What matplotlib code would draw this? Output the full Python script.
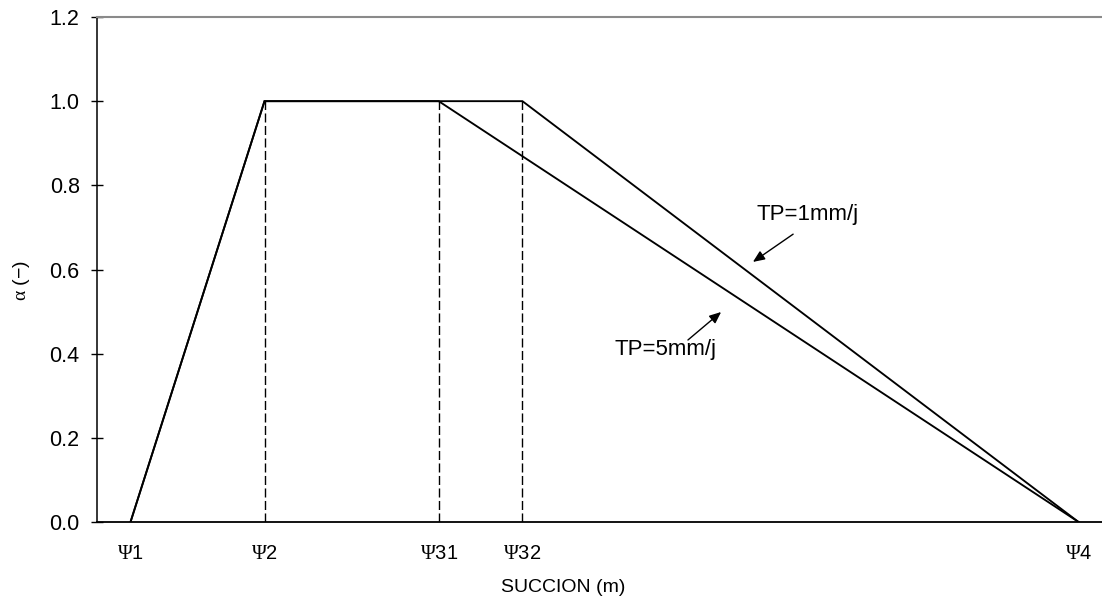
import matplotlib
matplotlib.use("Agg")
import matplotlib.pyplot as plt

plt.rcParams['font.family'] = ['Liberation Sans', 'DejaVu Sans']
plt.rcParams['mathtext.fontset'] = 'custom'
plt.rcParams['mathtext.rm'] = 'Liberation Serif'
plt.rcParams['mathtext.it'] = 'Liberation Serif'
plt.rcParams['mathtext.bf'] = 'Liberation Serif'

# Data
psi_names = [r"$\Psi$1", r"$\Psi$2", r"$\Psi$31", r"$\Psi$32", r"$\Psi$4"]
psi_values = [1.0, 5.0, 10.2, 12.7, 29.3]
x_tp1 = [1.0, 5.0, 12.7, 29.3]
y_tp1 = [0.0, 1.0, 1.0, 0.0]
x_tp5 = [1.0, 5.0, 10.2, 29.3]
y_tp5 = [0.0, 1.0, 1.0, 0.0]
dashed_x = [5.0, 10.2, 12.7]
dashed_top = [1.0, 1.0, 1.0]
y_ticks = [0.0, 0.2, 0.4, 0.6, 0.8, 1.0, 1.2]

fig = plt.figure(figsize=(11.02, 6.01), dpi=100)
ax = fig.add_axes([97/1102, 79/601, 1 - 97/1102, (522-17)/601])

ax.plot(x_tp1, y_tp1, color='black', lw=1.35, solid_joinstyle='miter')
ax.plot(x_tp5, y_tp5, color='black', lw=1.35, solid_joinstyle='miter')
ax.vlines(dashed_x, 0, dashed_top, colors='black', linestyles=(0, (6.5, 2.5)), lw=1.0)

ax.set_xlim(0, 30)
ax.set_ylim(0, 1.2)
ax.set_yticks(y_ticks)
ax.set_yticklabels([f"{v:.1f}" for v in y_ticks])
ax.set_xticks(psi_values)
ax.set_xticklabels(psi_names)
ax.tick_params(axis='y', direction='inout', length=9, width=1, labelsize=15.5, pad=8)
ax.tick_params(axis='x', length=0, labelsize=14.5, pad=16)

ax.spines['right'].set_visible(False)
ax.spines['top'].set_color('#8a8a8a')
ax.spines['top'].set_linewidth(1.5)
ax.spines['left'].set_color('black')
ax.spines['bottom'].set_color('black')
ax.spines['left'].set_linewidth(1.1)
ax.spines['bottom'].set_linewidth(1.3)

ax.set_xlabel("SUCCION (m)", fontsize=14)
ax.xaxis.set_label_coords((563 - 97) / 1005, -(587 - 522) / 505)
ax.xaxis.label.set_va('center')
ax.set_ylabel(r"$\alpha$ (−)", fontsize=14)
ax.yaxis.set_label_coords(-(97 - 21) / 1005, (522 - 281) / 505)
ax.yaxis.label.set_va('center')

arrow = dict(arrowstyle='-|>,head_length=0.7,head_width=0.3', color='black', lw=1.0, shrinkA=0, shrinkB=0)
ax.annotate("", xy=(19.58, 0.618), xytext=(20.78, 0.684), arrowprops=arrow)
ax.text(21.22, 0.7296, "TP=1mm/j", ha='center', va='center', fontsize=16)
ax.annotate("", xy=(18.63, 0.499), xytext=(17.64, 0.4325), arrowprops=arrow)
ax.text(16.96, 0.409, "TP=5mm/j", ha='center', va='center', fontsize=16)

fig.savefig("out.png", dpi=100)
